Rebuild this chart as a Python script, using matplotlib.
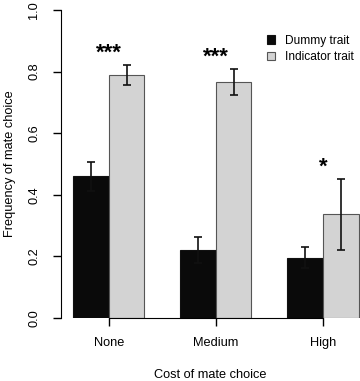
import matplotlib
matplotlib.use("Agg")
import matplotlib.pyplot as plt
from matplotlib.patches import Patch
import numpy as np

plt.rcParams['font.family'] = ['Liberation Sans', 'DejaVu Sans']

categories = ["None", "Medium", "High"]
series_names = ["Dummy trait", "Indicator trait"]
dummy = [0.462, 0.221, 0.196]
dummy_lo = [0.413, 0.178, 0.162]
dummy_hi = [0.507, 0.264, 0.229]
indicator = [0.788, 0.765, 0.337]
indicator_lo = [0.755, 0.724, 0.222]
indicator_hi = [0.821, 0.807, 0.451]
stars = ["***", "***", "*"]
star_y = [0.860, 0.848, 0.490]
yticks = [0.0, 0.2, 0.4, 0.6, 0.8, 1.0]

W, H = 360, 381
fig = plt.figure(figsize=(W/100, H/100), dpi=100)
ax = fig.add_axes([61/W, 63/H, (360-61)/W, 308/H])

group_left = np.array([0, 3, 6])
xd = group_left + 0.5
xi = group_left + 1.5
ax.bar(xd, dummy, width=1.0, color='#0a0a0a', edgecolor='#111111', linewidth=0.8)
ax.bar(xi, indicator, width=1.0, color='#d3d3d3', edgecolor='#555555', linewidth=0.8)

d = np.array(dummy); i = np.array(indicator)
ax.errorbar(xd, d, yerr=[d - np.array(dummy_lo), np.array(dummy_hi) - d], fmt='none',
            ecolor='#111111', elinewidth=1.2, capsize=2.9, capthick=1.2)
ax.errorbar(xi, i, yerr=[i - np.array(indicator_lo), np.array(indicator_hi) - i], fmt='none',
            ecolor='#111111', elinewidth=1.2, capsize=2.9, capthick=1.2)

for x, s, y in zip(group_left + 1.0, stars, star_y):
    ax.text(x, y, s, ha='center', va='center', fontsize=16, fontweight='bold')

ax.set_xlim(-0.336, 8.04)
ax.set_ylim(0, 1.0)
ax.spines['top'].set_visible(False)
ax.spines['right'].set_visible(False)
ax.spines['bottom'].set_bounds(1, 7)
ax.spines['left'].set_bounds(0, 1)
ax.set_xticks(group_left + 1.0)
ax.set_xticklabels(categories, fontsize=9.2)
ax.set_yticks(yticks)
ax.set_yticklabels([f"{v:.1f}" for v in yticks], fontsize=9.2, rotation=90, va='center')
ax.tick_params(axis='both', length=6, width=1.0, pad=8)
ax.tick_params(axis='y', pad=9)
ax.set_xlabel("Cost of mate choice", fontsize=9.2, labelpad=14)
ax.set_ylabel("Frequency of mate choice", fontsize=9.2, labelpad=9)

handles = [Patch(facecolor='#0a0a0a', edgecolor='#111111', linewidth=0.8),
           Patch(facecolor='#d3d3d3', edgecolor='#555555', linewidth=0.8)]
fig.legend(handles, series_names, loc='upper left', bbox_to_anchor=(262/W, 1 - 30/H),
           frameon=False, fontsize=8.6, handlelength=0.7, handleheight=0.7,
           handletextpad=0.8, labelspacing=0.35, borderaxespad=0)

fig.savefig("out.png", dpi=100)
